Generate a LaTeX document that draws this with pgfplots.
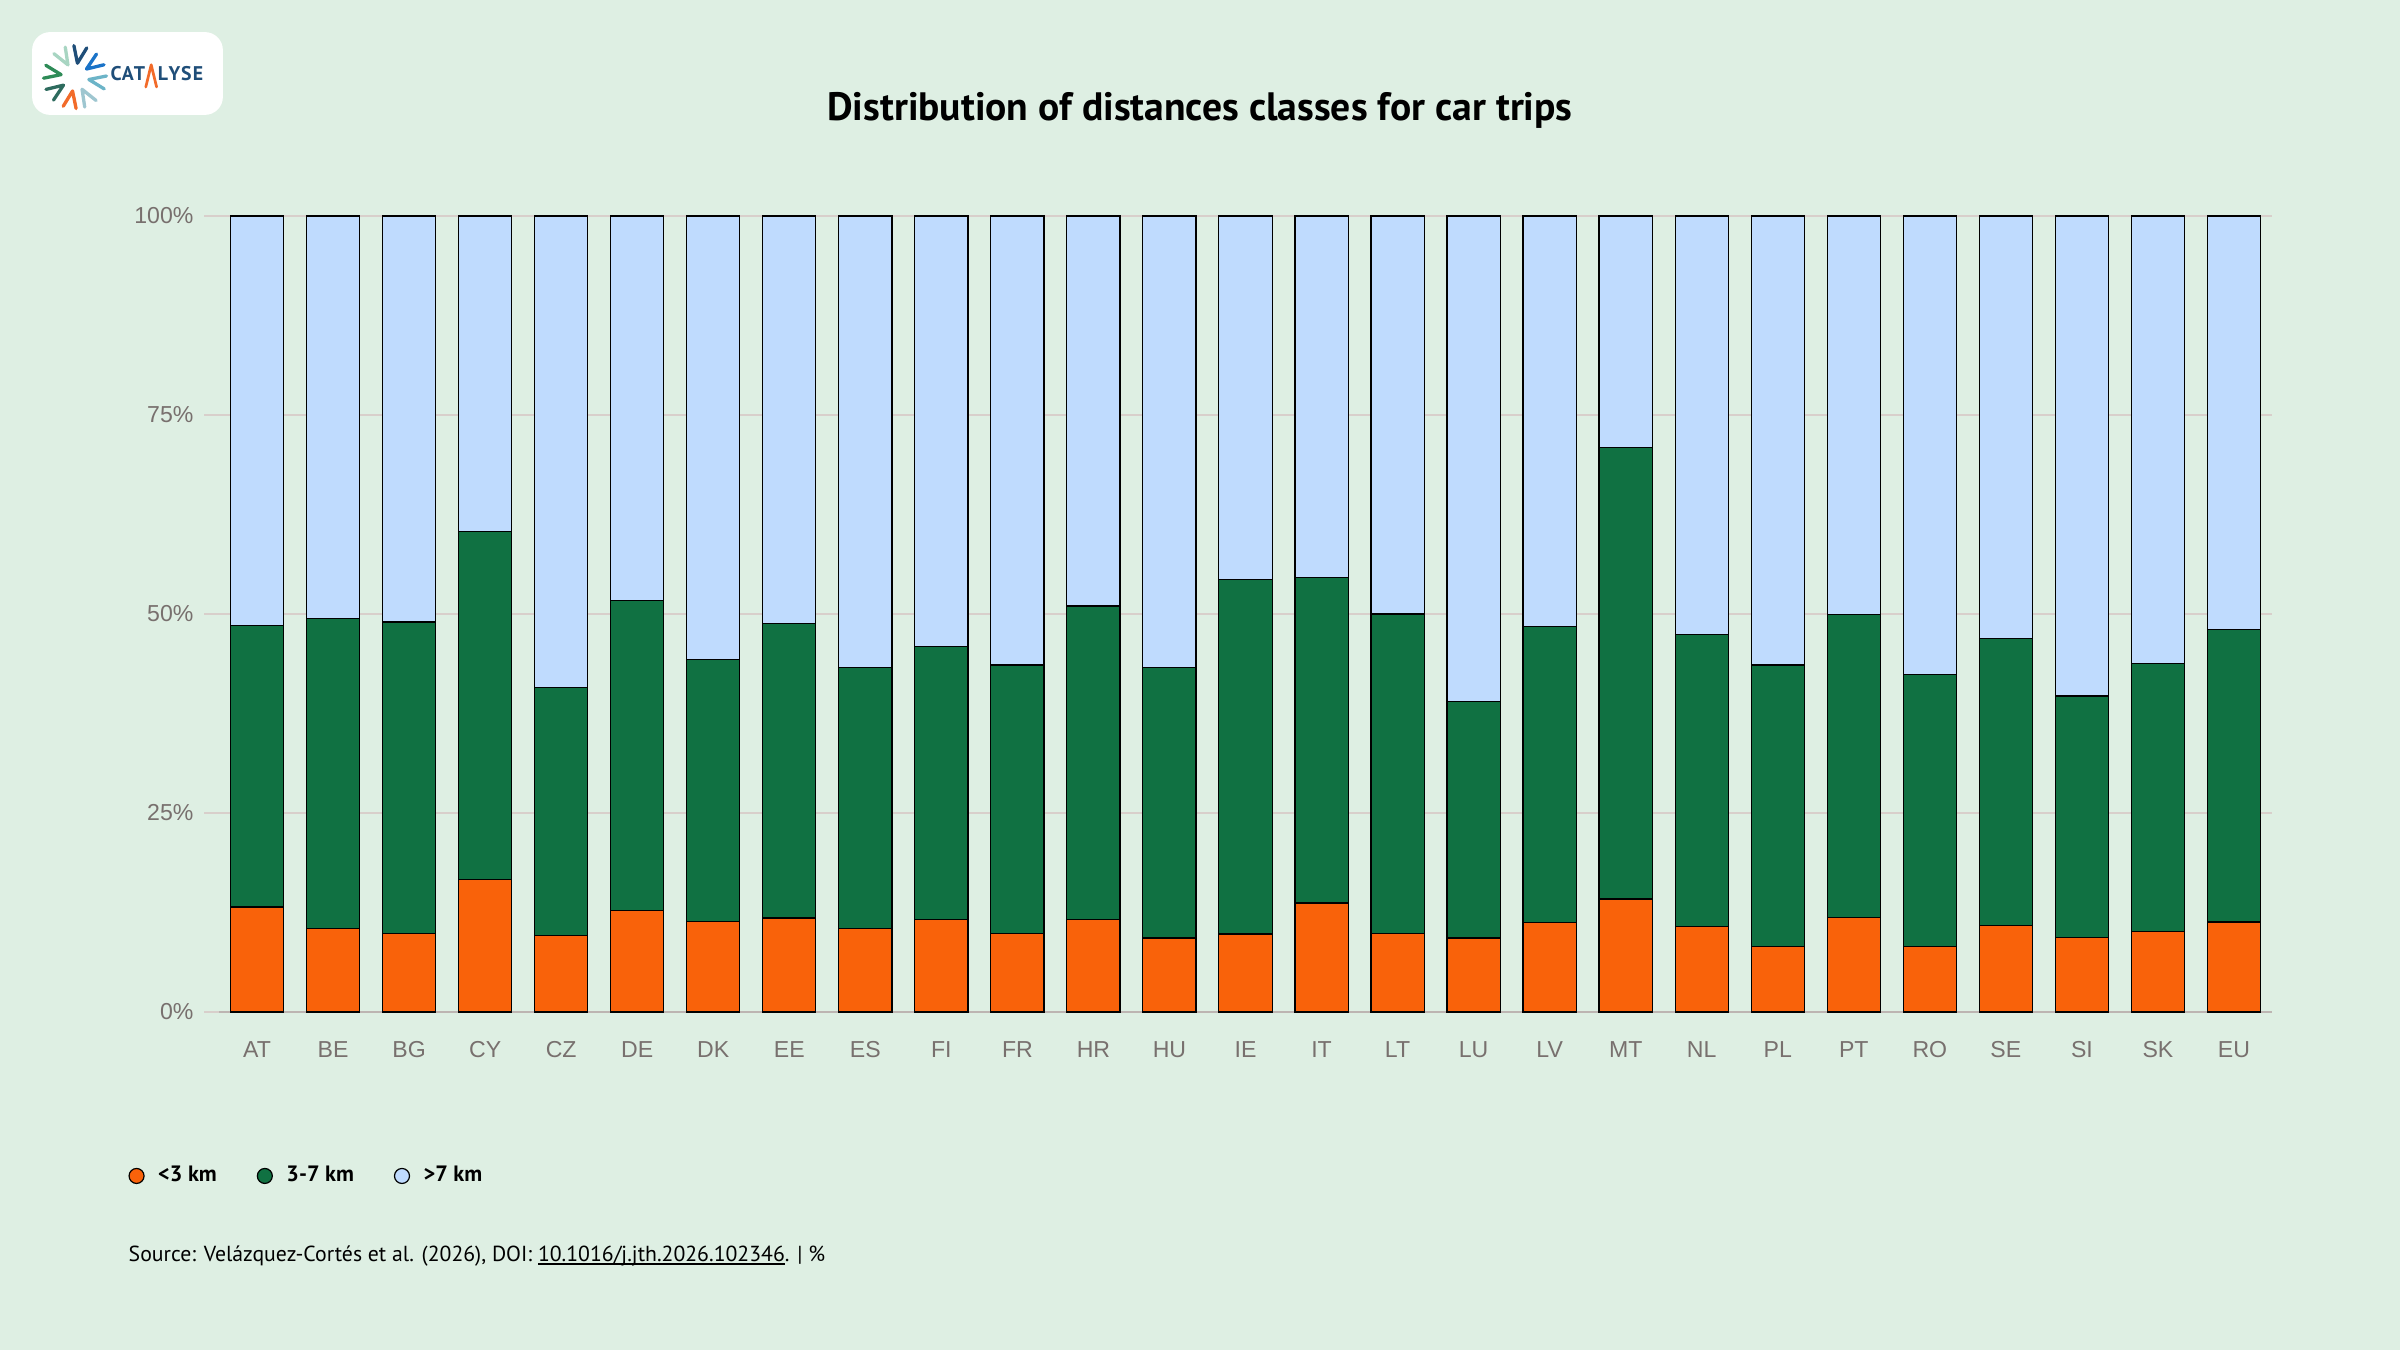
\documentclass[border=0pt]{standalone}
\usepackage{fontspec}
\setmainfont{Liberation Sans}
\newfontfamily\cond{PT Sans}
\usepackage{pgfplots}
\usepackage{pgfplotstable}
\pgfplotsset{compat=1.18}

\definecolor{bgc}{HTML}{DEEFE3}
\definecolor{orangec}{HTML}{F9620A}
\definecolor{greenc}{HTML}{107142}
\definecolor{bluec}{HTML}{BFDBFE}
\definecolor{gridc}{HTML}{D8CFCB}
\definecolor{basec}{HTML}{BDB5B2}
\definecolor{tickc}{HTML}{78706E}
\definecolor{navy}{HTML}{1F4E79}
\definecolor{lgblue}{HTML}{1A73C8}
\definecolor{lteal}{HTML}{6CB4C8}
\definecolor{lgray}{HTML}{9EC6D0}
\definecolor{lorange}{HTML}{F26B2A}
\definecolor{dgreen}{HTML}{2E6B5E}
\definecolor{mgreen}{HTML}{2E8B57}
\definecolor{mint}{HTML}{A8D5C2}

\newcommand\ul[1]{\setbox0\hbox{#1}\rlap{\rule[-0.9pt]{\wd0}{0.35pt}}#1}

% x: category index, o: <3 km, g: 3-7 km, b: >7 km (percent)
\pgfplotstableread{
x o g b
0 13.2 35.4 51.4
1 10.5 38.9 50.6
2 9.9 39.1 51.0
3 16.6 43.8 39.6
4 9.6 31.2 59.2
5 12.8 38.9 48.3
6 11.4 32.9 55.7
7 11.8 37.0 51.2
8 10.5 32.8 56.7
9 11.6 34.3 54.1
10 9.9 33.7 56.4
11 11.6 39.4 49.0
12 9.3 34.0 56.7
13 9.8 44.5 45.7
14 13.7 40.9 45.4
15 9.9 40.1 50.0
16 9.3 29.7 61.0
17 11.2 37.2 51.6
18 14.2 56.7 29.1
19 10.7 36.7 52.6
20 8.2 35.4 56.4
21 11.9 38.0 50.1
22 8.2 34.2 57.6
23 10.9 36.0 53.1
24 9.4 30.3 60.3
25 10.1 33.7 56.2
26 11.3 36.8 51.9
}\cartrips

\begin{document}
\begin{tikzpicture}
\fill[bgc] (0,0) rectangle (800pt,450pt);
\useasboundingbox (0,0) rectangle (800pt,450pt);

% logo
\fill[white, rounded corners=6pt] (10.7pt,411.7pt) rectangle (74.3pt,439.3pt);
\begin{scope}[shift={(25pt,424.3pt)}]
\foreach \a/\c in {80/navy,120/mint,35/lgblue,-10/lteal,-60/lgray,-100/lorange,-145/dgreen,170/mgreen}{
  \draw[\c, line width=1.1pt, line cap=round, line join=round] (\a+12:10.5pt) -- (\a:4.7pt) -- (\a-12:10.5pt);
}
\end{scope}
\foreach \l/\xx in {C/38.7,A/42.6,T/46.5,L/54.3,Y/58.2,S/62.1,E/66.0}{
  \node[anchor=base, inner sep=0pt, text=navy, font=\cond\bfseries\fontsize{6.6}{7}\selectfont] at (\xx pt,423.3pt) {\l};
}
\draw[lorange, line width=0.9pt, line cap=round, line join=round] (48.6pt,421.0pt) -- (50.4pt,428.4pt) -- (52.2pt,421.0pt);

% title
\node[anchor=base, inner sep=0pt, font=\cond\bfseries\fontsize{13.2}{15}\selectfont] at (400pt,409.8pt) {Distribution of distances classes for car trips};

% source
\node[anchor=base west, inner sep=0pt, font=\cond\fontsize{7.25}{9}\selectfont] at (42.7pt,29.4pt) {Source: Velázquez-Cortés et al. (2026), DOI: \ul{10.1016/j.jth.2026.102346}. | \%};

\begin{axis}[
  at={(73pt,112.67pt)}, anchor=south west,
  scale only axis, width=684.33pt, height=265.33pt,
  ybar stacked, bar width=0.7,
  xmin=-0.5, xmax=26.5, ymin=0, ymax=100,
  xtick={0,...,26},
  xticklabels={AT,BE,BG,CY,CZ,DE,DK,EE,ES,FI,FR,HR,HU,IE,IT,LT,LU,LV,MT,NL,PL,PT,RO,SE,SI,SK,EU},
  ytick={25,50,75,100}, yticklabels={25\%,50\%,75\%,100\%},
  extra y ticks={0}, extra y tick labels={0\%},
  extra y tick style={grid style={color=basec, line width=0.6pt}, tick style={draw=none}},
  ymajorgrids, grid style={color=gridc, line width=0.6pt},
  axis line style={draw=none},
  tick align=outside, major tick length=5pt,
  ytick pos=left, xtick pos=bottom,
  xtick style={draw=none}, ytick style={draw=gridc, line width=0.6pt},
  ticklabel style={font=\fontsize{7.7}{9}\selectfont, text=tickc},
  xticklabel style={yshift=-1.4pt},
  clip=false,
  legend columns=3,
  legend style={at={(-0.0441,-0.206)}, anchor=west, draw=none, fill=none,
    inner sep=0pt, outer sep=0pt,
    font=\cond\bfseries\fontsize{7.4}{9}\selectfont,
    nodes={inner sep=0pt},
    /tikz/every odd column/.append style={column sep=4.5pt},
    /tikz/every even column/.append style={column sep=13.3pt}},
]
\addplot[fill=orangec, draw=black, line width=0.4pt,
  legend image code/.code={\draw[fill=orangec, draw=black, line width=0.4pt] (2.5pt,0pt) circle (2.5pt);}]
  table[x=x, y=o]{\cartrips};
\addplot[fill=greenc, draw=black, line width=0.4pt,
  legend image code/.code={\draw[fill=greenc, draw=black, line width=0.4pt] (2.5pt,0pt) circle (2.5pt);}]
  table[x=x, y=g]{\cartrips};
\addplot[fill=bluec, draw=black, line width=0.4pt,
  legend image code/.code={\draw[fill=bluec, draw=black, line width=0.4pt] (2.5pt,0pt) circle (2.5pt);}]
  table[x=x, y=b]{\cartrips};
\legend{<3 km, 3-7 km, >7 km}
\end{axis}
\end{tikzpicture}
\end{document}
